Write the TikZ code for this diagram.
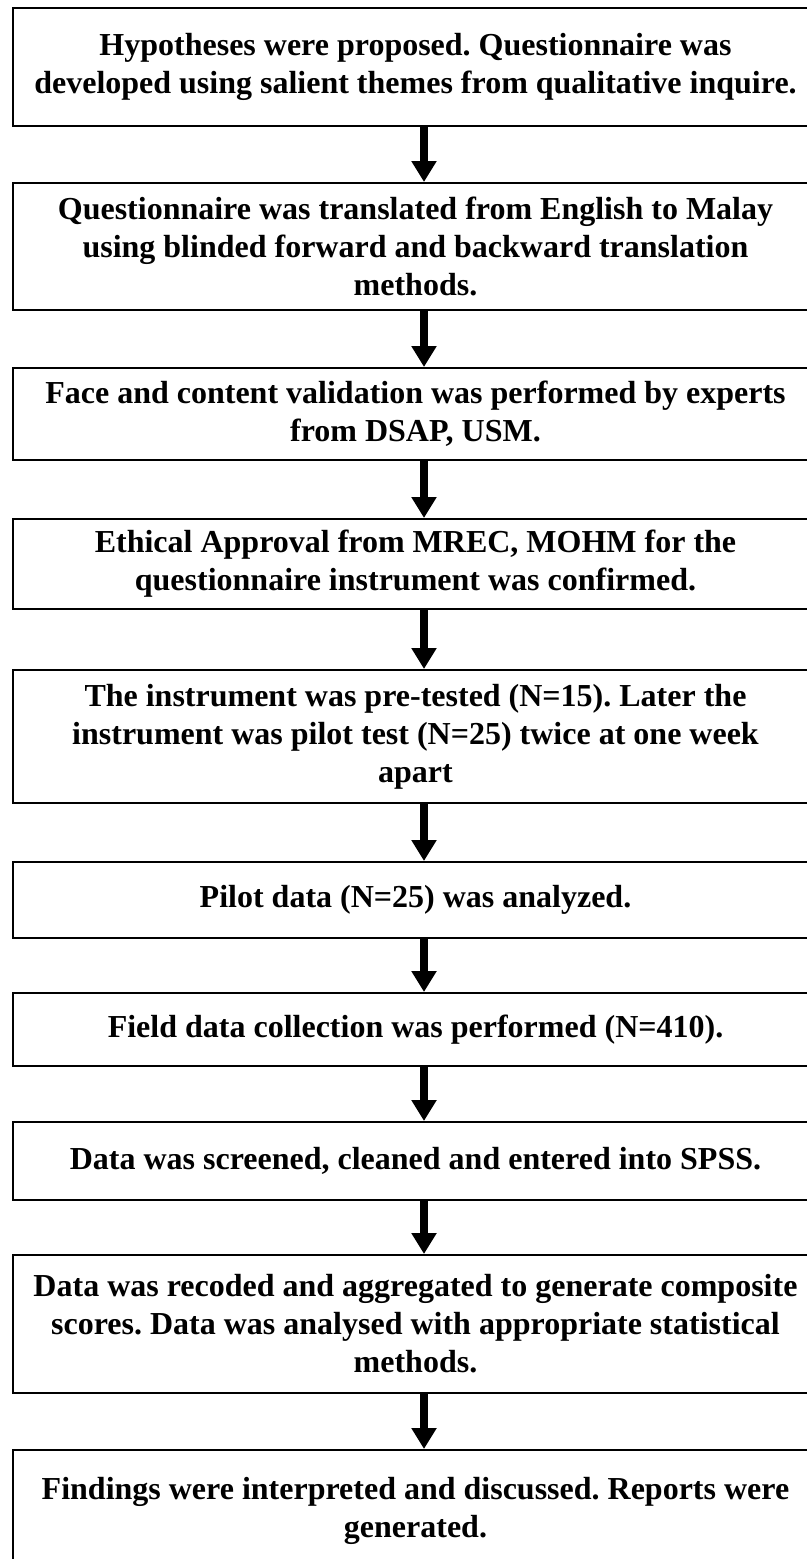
\documentclass[tikz,border=0pt]{standalone}
\usepackage{fontspec}
\setmainfont{Liberation Serif}
\usetikzlibrary{arrows.meta}
\frenchspacing
\begin{document}
\begin{tikzpicture}[x=0.5pt,y=-0.5pt,
  stage/.style={draw,line width=1pt,minimum width=402.5pt,minimum height=#1,inner sep=0pt,align=center,font=\fontsize{16pt}{19pt}\selectfont\bfseries},
  flow/.style={line width=4pt,-{Triangle[width=12pt,length=10.5pt]}}]
\useasboundingbox (0,0) rectangle (807,1559);
\node[stage=59pt] (hyp) at (415.5,67) {Hypotheses were proposed. Questionnaire was\\developed using salient themes from qualitative inquire.};
\node[stage=63.5pt] (trans) at (415.5,246.5) {Questionnaire was translated from English to Malay\\using blinded forward and backward translation\\methods.};
\node[stage=46pt] (valid) at (415.5,414) {Face and content validation was performed by experts\\from DSAP, USM.};
\node[stage=45pt] (ethic) at (415.5,564) {Ethical Approval from MREC, MOHM for the\\questionnaire instrument was confirmed.};
\node[stage=66.5pt] (pretest) at (415.5,736.5) {The instrument was pre-tested (N=15). Later the\\instrument was pilot test (N=25) twice at one week\\apart};
\node[stage=38pt] (pilot) at (415.5,900) {Pilot data (N=25) was analyzed.};
\node[stage=36.5pt] (field) at (415.5,1029.5) {Field data collection was performed (N=410).};
\node[stage=39pt] (screen) at (415.5,1161) {Data was screened, cleaned and entered into SPSS.};
\node[stage=69pt] (recode) at (415.5,1324) {Data was recoded and aggregated to generate composite\\scores. Data was analysed with appropriate statistical\\methods.};
\node[stage=61pt] (report) at (415.5,1511) {Findings were interpreted and discussed. Reports were\\generated.};
% arrows sit a little right of the box centre
\coordinate (ax) at (424,0);
\draw[flow] (hyp.south -| ax) -- (trans.north -| ax);
\draw[flow] (trans.south -| ax) -- (valid.north -| ax);
\draw[flow] (valid.south -| ax) -- (ethic.north -| ax);
\draw[flow] (ethic.south -| ax) -- (pretest.north -| ax);
\draw[flow] (pretest.south -| ax) -- (pilot.north -| ax);
\draw[flow] (pilot.south -| ax) -- (field.north -| ax);
\draw[flow] (field.south -| ax) -- (screen.north -| ax);
\draw[flow] (screen.south -| ax) -- (recode.north -| ax);
\draw[flow] (recode.south -| ax) -- (report.north -| ax);
\end{tikzpicture}
\end{document}
